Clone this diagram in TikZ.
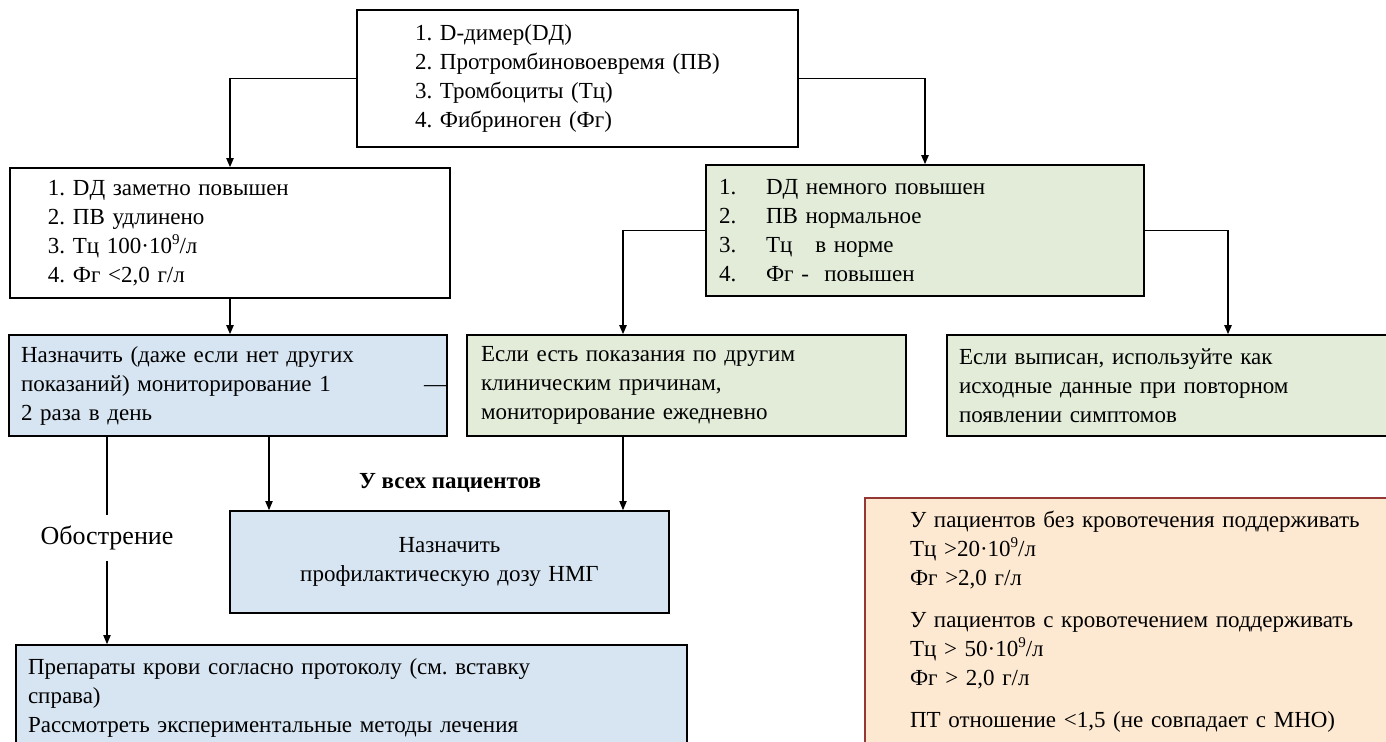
\documentclass[tikz,border=0pt]{standalone}
\usepackage{fontspec}
\setmainfont{Liberation Serif}
\usetikzlibrary{arrows.meta}
\definecolor{bluefill}{RGB}{215,228,241}
\definecolor{greenfill}{RGB}{226,236,217}
\definecolor{orangefill}{RGB}{253,233,210}
\definecolor{orangeline}{RGB}{149,55,52}
\frenchspacing
\newcommand\dsize{\fontsize{11.5pt}{14.5pt}\selectfont\frenchspacing}
\newcommand\numb[1]{\makebox[23.5pt][l]{#1}}
\newcommand\supnine{\raisebox{0.4em}{\fontsize{7.5pt}{8pt}\selectfont 9}}
\begin{document}
\begin{tikzpicture}[x=0.5pt,y=-0.5pt,
  box/.style={draw=black, line width=0.8pt, inner xsep=0pt, inner ysep=0pt, align=left, font=\dsize},
  conn/.style={line width=0.8pt, -{Triangle[length=4.5pt,width=3.6pt]}},
  thinconn/.style={line width=0.55pt, -{Triangle[length=4.5pt,width=3.6pt]}},
  thinline/.style={line width=0.55pt},
  lbl/.style={inner sep=0pt, font=\dsize}
]
\useasboundingbox (0,0) rectangle (1386,742);
\clip (0,0) rectangle (1386,742);
\fill[white] (0,0) rectangle (1386,742);

% boxes
\node[box, text width=220.5pt, minimum height=68.5pt] (t) at (577.5,78.5)
  {\leftskip=29pt 1. D-димер(DД)\\2. Протромбиновоевремя (ПВ)\\3. Тромбоциты (Тц)\\4. Фибриноген (Фг)\par};
\node[box, text width=220pt, minimum height=65pt] (l) at (230,233)
  {\leftskip=19pt 1. DД заметно повышен\\2. ПВ удлинено\\3. Тц 100·10\supnine/л\\4. Фг <2,0 г/л\par};
\node[box, fill=greenfill, text width=219pt, minimum height=65.5pt] (g) at (925,230.5)
  {\leftskip=6.5pt \numb{1.}DД немного повышен\\\numb{2.}ПВ нормальное\\\numb{3.}Тц \ \ в норме\\\numb{4.}Фг - \ повышен\par};
\node[box, fill=bluefill, text width=219pt, minimum height=50.5pt] (b) at (228,385.5)
  {\leftskip=6pt Назначить (даже если нет других\\показаний) мониторирование 1\hfill —\hspace*{11pt}\\2 раза в день\par};
\node[box, fill=greenfill, text width=219.5pt, minimum height=50.5pt] (m) at (686.5,385.5)
  {\leftskip=7pt Если есть показания по другим\\клиническим причинам,\\мониторирование ежедневно\par};
\node[box, fill=greenfill, text width=226.5pt, minimum height=50.5pt] (r) at (1173.5,385.5)
  {\leftskip=6pt Если выписан, используйте как\\исходные данные при повторном\\появлении симптомов\par};
\node[box, fill=bluefill, text width=219.5pt, minimum height=51pt, align=center] (n) at (449.5,562)
  {Назначить\\профилактическую дозу НМГ};
\node[box, fill=bluefill, text width=335.5pt, minimum height=53pt] (p) at (351.5,698)
  {\leftskip=6pt Препараты крови согласно протоколу (см. вставку\\справа)\\Рассмотреть экспериментальные методы лечения\par};
\node[box, draw=orangeline, fill=orangefill, text width=267.5pt, minimum height=124pt] (o) at (1132.5,622)
  {\leftskip=22.5pt У пациентов без кровотечения поддерживать\\Тц >20·10\supnine/л\\Фг >2,0 г/л\\[6.5pt]У пациентов с кровотечением поддерживать\\Тц > 50·10\supnine/л\\Фг > 2,0 г/л\\[6.5pt]ПТ отношение <1,5 (не совпадает с МНО)\par};

% labels
\node[lbl, font=\fontsize{13pt}{15pt}\selectfont, minimum height=22.5pt] (ob) at (107,538) {Обострение};
\node[lbl, font=\dsize\bfseries] (all) at (450,483) {У всех пациентов};

% kink coordinates
\coordinate (kx1) at (623,230);
\coordinate (kx2) at (1228,230);
\coordinate (kx3) at (269,436);

% connectors
\draw[conn] (t.west) -| (l.north);
\draw[conn] (t.east) -| (g.north);
\draw[conn] (l.south) -- (l.south |- b.north);
\draw[conn] (g.west) -| (kx1 |- m.north);
\draw[conn] (g.east) -| (kx2 |- r.north);
\draw[thinline] (b.south -| ob) -- (ob.north);
\draw[thinconn] (ob.south) -- (p.north -| ob);
\draw[thinconn] (kx3 |- b.south) -- (kx3 |- n.north);
\draw[thinconn] (kx1 |- m.south) -- (kx1 |- n.north);
\end{tikzpicture}
\end{document}
